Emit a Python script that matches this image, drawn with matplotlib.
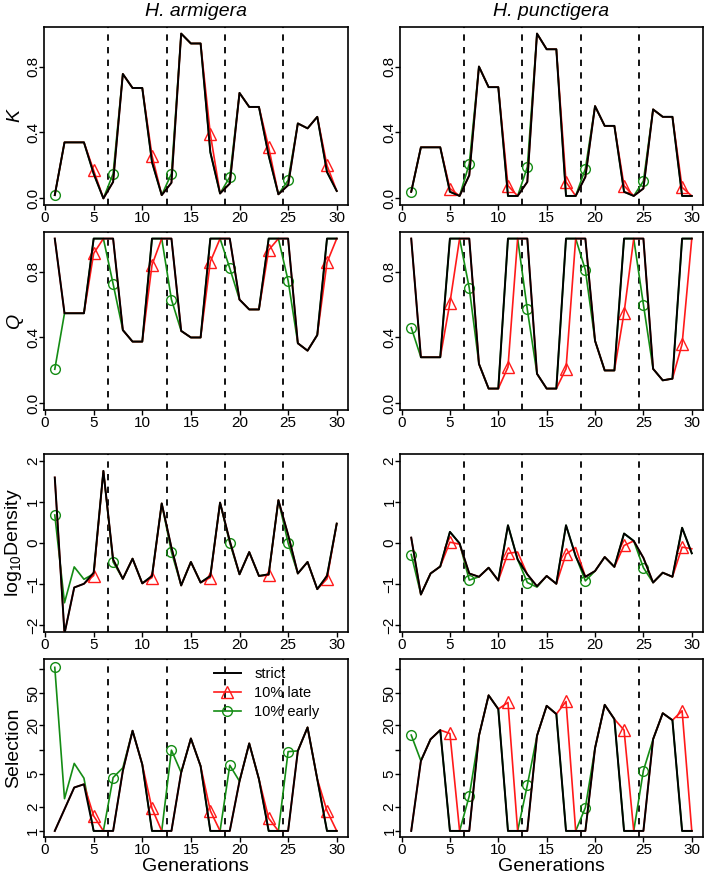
import numpy as np
import matplotlib
matplotlib.use("Agg")
import matplotlib.pyplot as plt
from matplotlib.lines import Line2D

plt.rcParams['font.family'] = ['Liberation Sans', 'DejaVu Sans']

gens = np.arange(1, 31)
switch_gens = [6.5, 12.5, 18.5, 24.5]
late_marks = [4, 10, 16, 22, 28]    # generations 5, 11, 17, 23, 29
early_marks = [0, 6, 12, 18, 24]    # generations 1, 7, 13, 19, 25
species = ["H. armigera", "H. punctigera"]

# K
k_arm_strict = [0.02, 0.34, 0.34, 0.34, 0.15, 0.00, 0.10, 0.755, 0.67, 0.67, 0.22, 0.02, 0.095, 1.0, 0.94,
                0.94, 0.28, 0.03, 0.09, 0.64, 0.555, 0.555, 0.26, 0.025, 0.08, 0.455, 0.425, 0.495, 0.16, 0.045]
k_arm_late = [0.02, 0.34, 0.34, 0.34, 0.17, 0.00, 0.10, 0.755, 0.67, 0.67, 0.26, 0.02, 0.095, 1.0, 0.94,
              0.94, 0.39, 0.03, 0.09, 0.64, 0.555, 0.555, 0.31, 0.025, 0.08, 0.455, 0.425, 0.495, 0.20, 0.045]
k_arm_early = [0.02, 0.34, 0.34, 0.34, 0.15, 0.00, 0.15, 0.755, 0.67, 0.67, 0.22, 0.02, 0.15, 1.0, 0.94,
               0.94, 0.28, 0.03, 0.13, 0.64, 0.555, 0.555, 0.26, 0.025, 0.11, 0.455, 0.425, 0.495, 0.16, 0.045]
k_pun_strict = [0.04, 0.31, 0.31, 0.31, 0.04, 0.015, 0.14, 0.80, 0.675, 0.675, 0.015, 0.015, 0.10, 1.0, 0.905,
                0.905, 0.015, 0.015, 0.13, 0.56, 0.44, 0.44, 0.04, 0.015, 0.06, 0.54, 0.495, 0.495, 0.015, 0.015]
k_pun_late = [0.04, 0.31, 0.31, 0.31, 0.06, 0.015, 0.14, 0.80, 0.675, 0.675, 0.077, 0.015, 0.10, 1.0, 0.905,
              0.905, 0.10, 0.015, 0.13, 0.56, 0.44, 0.44, 0.077, 0.015, 0.06, 0.54, 0.495, 0.495, 0.067, 0.015]
k_pun_early = [0.04, 0.31, 0.31, 0.31, 0.04, 0.015, 0.21, 0.80, 0.675, 0.675, 0.015, 0.015, 0.19, 1.0, 0.905,
               0.905, 0.015, 0.015, 0.18, 0.56, 0.44, 0.44, 0.04, 0.015, 0.105, 0.54, 0.495, 0.495, 0.015, 0.015]

# Q
q_arm_strict = [1.0, 0.547, 0.547, 0.547, 1.0, 1.0, 1.0, 0.445, 0.375, 0.375, 1.0, 1.0, 1.0, 0.44, 0.40,
                0.40, 1.0, 1.0, 1.0, 0.63, 0.57, 0.57, 1.0, 1.0, 1.0, 0.365, 0.32, 0.415, 1.0, 1.0]
q_arm_late = [1.0, 0.547, 0.547, 0.547, 0.91, 1.0, 1.0, 0.445, 0.375, 0.375, 0.84, 1.0, 1.0, 0.44, 0.40,
              0.40, 0.86, 1.0, 1.0, 0.63, 0.57, 0.57, 0.93, 1.0, 1.0, 0.365, 0.32, 0.415, 0.855, 1.0]
q_arm_early = [0.207, 0.547, 0.547, 0.547, 1.0, 1.0, 0.725, 0.445, 0.375, 0.375, 1.0, 1.0, 0.63, 0.44, 0.40,
               0.40, 1.0, 1.0, 0.82, 0.63, 0.57, 0.57, 1.0, 1.0, 0.745, 0.365, 0.32, 0.415, 1.0, 1.0]
q_pun_strict = [1.0, 0.28, 0.28, 0.28, 1.0, 1.0, 1.0, 0.24, 0.09, 0.09, 1.0, 1.0, 1.0, 0.18, 0.09,
                0.09, 1.0, 1.0, 1.0, 0.38, 0.20, 0.20, 1.0, 1.0, 1.0, 0.21, 0.14, 0.15, 1.0, 1.0]
q_pun_late = [1.0, 0.28, 0.28, 0.28, 0.61, 1.0, 1.0, 0.24, 0.09, 0.09, 0.22, 1.0, 1.0, 0.18, 0.09,
              0.09, 0.21, 1.0, 1.0, 0.38, 0.20, 0.20, 0.55, 1.0, 1.0, 0.21, 0.14, 0.15, 0.36, 1.0]
q_pun_early = [0.46, 0.28, 0.28, 0.28, 1.0, 1.0, 0.70, 0.24, 0.09, 0.09, 1.0, 1.0, 0.57, 0.18, 0.09,
               0.09, 1.0, 1.0, 0.81, 0.38, 0.20, 0.20, 1.0, 1.0, 0.60, 0.21, 0.14, 0.15, 1.0, 1.0]

# log10 density
d_arm_strict = [1.59, -2.2, -1.08, -0.99, -0.72, 1.75, -0.40, -0.87, -0.38, -0.98, -0.80, 0.96, -0.11, -1.03, -0.46,
                -0.96, -0.80, 0.98, 0.05, -0.76, -0.22, -0.80, -0.76, 1.04, 0.20, -0.74, -0.46, -1.12, -0.80, 0.47]
d_arm_late = [1.59, -2.2, -1.08, -0.99, -0.79, 1.75, -0.40, -0.87, -0.38, -0.98, -0.84, 0.96, -0.11, -1.03, -0.46,
              -0.96, -0.84, 0.98, 0.05, -0.76, -0.22, -0.80, -0.78, 1.04, 0.20, -0.74, -0.46, -1.12, -0.87, 0.47]
d_arm_early = [0.68, -1.45, -0.58, -0.88, -0.75, 1.75, -0.46, -0.87, -0.38, -0.98, -0.80, 0.96, -0.22, -1.03, -0.46,
               -0.96, -0.80, 0.98, 0.00, -0.76, -0.22, -0.80, -0.76, 1.04, 0.00, -0.74, -0.46, -1.12, -0.80, 0.47]
d_pun_strict = [0.13, -1.25, -0.74, -0.57, 0.27, -0.01, -0.74, -0.82, -0.60, -0.91, 0.43, -0.40, -0.76, -1.05, -0.80,
                -0.99, 0.43, -0.32, -0.82, -0.68, -0.34, -0.58, 0.23, 0.05, -0.36, -0.96, -0.72, -0.82, 0.37, -0.25]
d_pun_late = [0.13, -1.25, -0.74, -0.57, 0.02, -0.03, -0.74, -0.82, -0.60, -0.91, -0.25, -0.22, -0.76, -1.05, -0.80,
              -0.99, -0.27, -0.11, -0.82, -0.68, -0.34, -0.58, -0.06, 0.05, -0.36, -0.96, -0.72, -0.82, -0.10, -0.14]
d_pun_early = [-0.28, -1.25, -0.74, -0.57, 0.27, -0.01, -0.90, -0.82, -0.60, -0.91, 0.43, -0.40, -0.96, -1.07, -0.80,
               -0.99, 0.43, -0.32, -0.92, -0.68, -0.34, -0.58, 0.23, 0.05, -0.60, -0.96, -0.72, -0.82, 0.37, -0.25]

# selection (log axis)
s_arm_strict = [1, 1.85, 3.43, 3.76, 1, 1, 1, 5.5, 17.2, 6.6, 1, 1, 1, 5.25, 13.8,
                6.3, 1, 1, 1, 4.1, 12.0, 4.35, 1, 1, 1, 9.7, 18.9, 4.35, 1, 1]
s_arm_late = [1, 1.85, 3.43, 3.76, 1.53, 1, 1, 5.5, 17.2, 6.6, 1.89, 1, 1, 5.25, 13.8,
              6.3, 1.77, 1, 1, 4.1, 12.0, 4.35, 1.43, 1, 1, 9.7, 18.9, 4.35, 1.77, 1]
s_arm_early = [104, 2.5, 6.8, 4.47, 1, 1, 4.55, 6.0, 17.2, 6.6, 1, 1, 9.9, 5.25, 13.8,
               6.3, 1, 1, 6.45, 4.1, 12.0, 4.35, 1, 1, 9.5, 9.7, 18.9, 4.35, 1, 1]
s_pun_strict = [1, 7.3, 13.5, 17.5, 1, 1, 1, 14.9, 47, 31.8, 1, 1, 1, 14.9, 34.9,
                27.6, 1, 1, 1, 10.5, 35.9, 23.9, 1, 1, 1, 13.5, 28.3, 23.2, 1, 1]
s_pun_late = [1, 7.3, 13.5, 17.5, 15.9, 1, 1, 14.9, 47, 31.8, 38.4, 1, 1, 14.9, 34.9,
              27.6, 39.5, 1, 1, 10.5, 35.9, 23.9, 17.5, 1, 1, 13.5, 28.3, 23.2, 30.3, 1]
s_pun_early = [15.2, 7.3, 13.5, 17.5, 1, 1, 2.7, 14.9, 47, 31.8, 1, 1, 3.66, 14.9, 34.9,
               27.6, 1, 1, 1.94, 10.5, 35.9, 23.9, 1, 1, 5.55, 13.5, 28.3, 23.2, 1, 1]

RED = '#ff1a1a'
GREEN = '#148c14'

W, H = 704, 874
fig = plt.figure(figsize=(W / 100, H / 100), dpi=100)

col_left = [43.5, 400]
col_width = [304.5, 303]
row_top = [27, 232, 454, 659]
row_h = 178


def draw_panel(ax, strict, late, early, ylim, yticks, yticklabels, log=False):
    if log:
        ax.set_yscale('log')
    for x in switch_gens:
        ax.axvline(x, color='black', ls=(0, (3.5, 3.5)), lw=1.3, zorder=1)
    ax.plot(gens, early, color=GREEN, lw=1.2, marker='o', ms=7, mfc='none', mew=1.0,
            markevery=early_marks, zorder=2)
    ax.plot(gens, late, color=RED, lw=1.2, marker='^', ms=8, mfc='none', mew=1.0,
            markevery=late_marks, zorder=3)
    ax.plot(gens, strict, color='black', lw=1.4, zorder=4)
    ax.set_xlim(-0.16, 31.16)
    ax.set_ylim(*ylim)
    ax.set_xticks([0, 5, 10, 15, 20, 25, 30])
    ax.set_yticks(yticks)
    ax.set_yticklabels(yticklabels)
    ax.yaxis.set_minor_locator(matplotlib.ticker.NullLocator())
    ax.tick_params(direction='out', length=3.5, width=1, labelsize=11)
    ax.tick_params(axis='x', pad=1)
    ax.tick_params(axis='y', pad=-1)
    for lab in ax.get_yticklabels():
        lab.set_rotation(90)
        lab.set_va('center')
    for sp in ax.spines.values():
        sp.set_linewidth(1.2)


panels = [
    ([k_arm_strict, k_arm_late, k_arm_early], [k_pun_strict, k_pun_late, k_pun_early],
     (-0.04, 1.04), [0, 0.4, 0.8], ['0.0', '0.4', '0.8'], False),
    ([q_arm_strict, q_arm_late, q_arm_early], [q_pun_strict, q_pun_late, q_pun_early],
     (-0.04, 1.04), [0, 0.4, 0.8], ['0.0', '0.4', '0.8'], False),
    ([d_arm_strict, d_arm_late, d_arm_early], [d_pun_strict, d_pun_late, d_pun_early],
     (-2.16, 2.16), [-2, -1, 0, 1, 2], ['\u22122', '\u22121', '0', '1', '2'], False),
    ([s_arm_strict, s_arm_late, s_arm_early], [s_pun_strict, s_pun_late, s_pun_early],
     (10 ** -0.075, 10 ** 2.12), [1, 2, 5, 10, 20, 50, 100], ['1', '2', '5', '', '20', '50', ''], True),
]
ylabels = ['K', 'Q', r'$\mathregular{log_{10}Density}$', 'Selection']
ylabel_x = [15, 15, 14, 14]

axes = []
for r, (arm, pun, ylim, yt, ytl, log) in enumerate(panels):
    row_axes = []
    for c, series in enumerate([arm, pun]):
        ax = fig.add_axes([col_left[c] / W, 1 - (row_top[r] + row_h) / H, col_width[c] / W, row_h / H])
        draw_panel(ax, series[0], series[1], series[2], ylim, yt, ytl, log)
        row_axes.append(ax)
    style = 'italic' if r < 2 else 'normal'
    fig.text(ylabel_x[r] / W, 1 - (row_top[r] + row_h / 2) / H, ylabels[r], fontsize=14,
             fontstyle=style, rotation=90, ha='center', va='center')
    axes.append(row_axes)

for c in range(2):
    fig.text((col_left[c] + col_width[c] / 2) / W, 1 - 12 / H, species[c], fontsize=14,
             fontstyle='italic', ha='center', va='center')
    axes[3][c].set_xlabel('Generations', fontsize=14, labelpad=0.3)

handles = [Line2D([], [], color='black', lw=1.4),
           Line2D([], [], color=RED, lw=1.2, marker='^', ms=8, mfc='none'),
           Line2D([], [], color=GREEN, lw=1.2, marker='o', ms=7, mfc='none')]
axes[3][0].legend(handles, ['strict', '10% late', '10% early'], loc='upper left',
                  bbox_to_anchor=(0.52, 1.02), frameon=False, fontsize=10.5,
                  handlelength=1.9, handletextpad=0.9, labelspacing=0.35, borderpad=0.3)

fig.savefig('out.png', dpi=100)
